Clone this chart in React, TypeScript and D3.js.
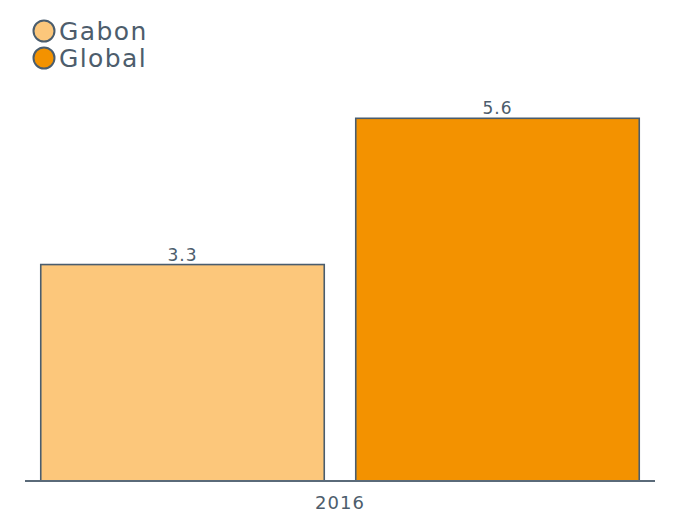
import React from "react";
import * as d3 from "d3";

const categories = ["2016"];
const seriesNames = ["Gabon", "Global"];
const seriesValues = [3.33, 5.58];
const seriesLabels = ["3.3", "5.6"];
const seriesColors = ["#FCC77B", "#F39200"];

const W = 678;
const H = 513;
const baseY = 481;
const textColor = "#4d5d6c";
const strokeColor = "#4a5d6e";
const font = "DejaVu Sans, sans-serif";

export default function App() {
  const x = d3
    .scaleBand<string>()
    .domain(seriesNames)
    .range([25, 655])
    .paddingInner(0.1)
    .paddingOuter(0.05);
  const y = d3.scaleLinear().domain([0, 6]).range([baseY, baseY - 390]);

  return (
    <svg
      width={W}
      height={H}
      style={{ position: "absolute", left: 0, top: 0 }}
      fontFamily={font}
    >
      {seriesNames.map((s, i) => (
        <g key={s}>
          <rect
            x={x(s)!}
            y={y(seriesValues[i])}
            width={x.bandwidth()}
            height={baseY - y(seriesValues[i])}
            fill={seriesColors[i]}
            stroke={strokeColor}
            strokeWidth={1.6}
          />
          <text
            x={x(s)! + x.bandwidth() / 2}
            y={y(seriesValues[i]) - 4}
            textAnchor="middle"
            fontSize={17}
            letterSpacing={1}
            fill={textColor}
          >
            {seriesLabels[i]}
          </text>
        </g>
      ))}
      <line
        x1={25}
        x2={655}
        y1={baseY}
        y2={baseY}
        stroke="#5a6a79"
        strokeWidth={2}
      />
      {categories.map((c) => (
        <text
          key={c}
          x={340}
          y={509}
          textAnchor="middle"
          fontSize={18}
          letterSpacing={1}
          fill={textColor}
        >
          {c}
        </text>
      ))}
      {seriesNames.map((s, i) => (
        <g key={"lg" + s}>
          <circle
            cx={44}
            cy={31 + i * 27}
            r={10.5}
            fill={seriesColors[i]}
            stroke={strokeColor}
            strokeWidth={2}
          />
          <text
            x={59}
            y={40 + i * 27}
            fontSize={25}
            letterSpacing={1.4}
            fill={textColor}
          >
            {s}
          </text>
        </g>
      ))}
    </svg>
  );
}
